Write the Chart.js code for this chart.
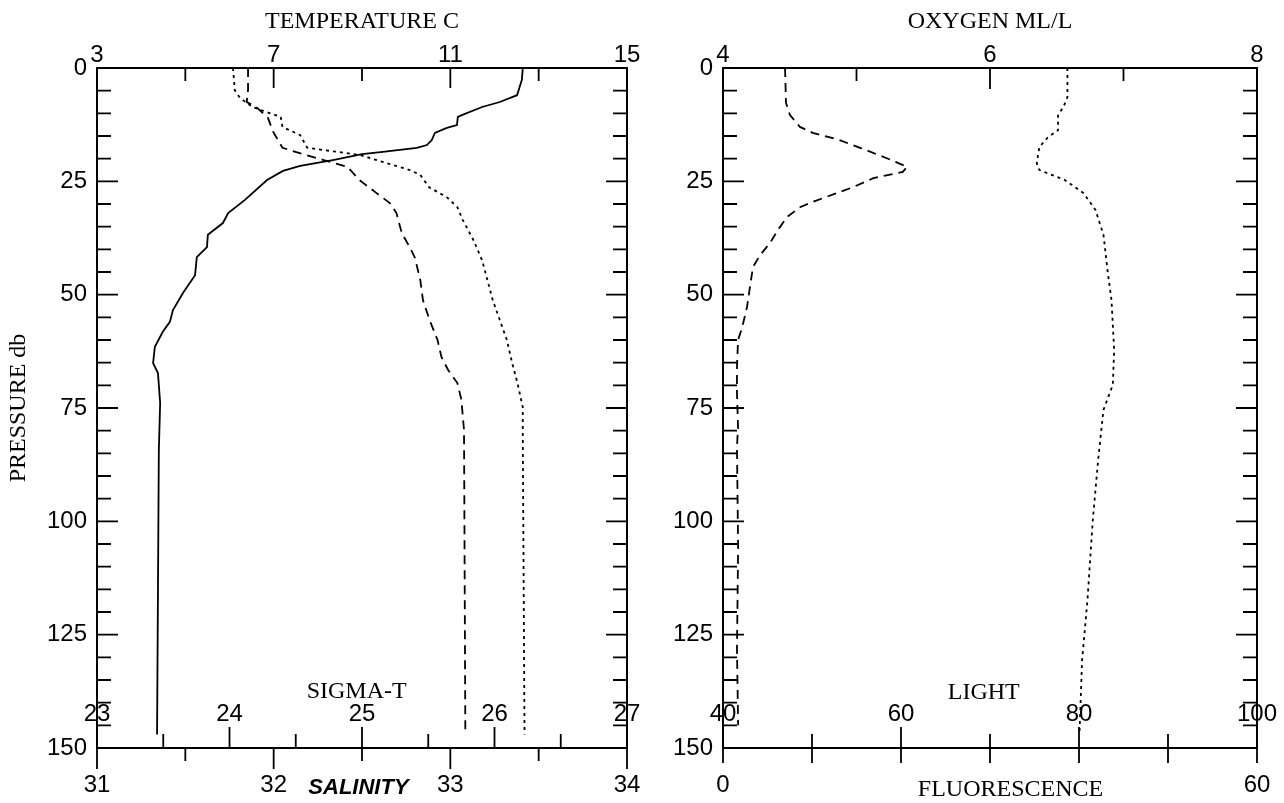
<!DOCTYPE html>
<html>
<head>
<meta charset="utf-8">
<script src="https://cdn.jsdelivr.net/npm/chart.js@4"></script>
<style>
  html, body { margin: 0; padding: 0; background: #fff; }
  #wrap { position: relative; width: 1284px; height: 803px; }
  #left { position: absolute; left: 0; top: 0; width: 640px; height: 803px; }
  #right { position: absolute; left: 640px; top: 0; width: 644px; height: 803px; }
</style>
</head>
<body>
<div id="wrap">
  <div id="left"><canvas id="c1"></canvas></div>
  <div id="right"><canvas id="c2"></canvas></div>
</div>
<script>
// tick labels
const pressureTicks = [0, 25, 50, 75, 100, 125, 150];
const tempTicks = [3, 7, 11, 15];
const salTicks = [31, 32, 33, 34];
const sigmaTicks = [23, 24, 25, 26, 27];
const oxyTicks = [4, 6, 8];
const lightTicks = [40, 60, 80, 100];
const fluTicks = [0, 60];

// left panel profiles (pressure db / value)
const tempPres = [0, 2.6, 6.0, 7.5, 8.6, 10.4, 10.8, 12.6, 13.2, 14.3, 15.9, 17.0, 17.6, 18.5, 19.0, 20.3, 21.6, 22.7, 24.7, 29.1, 32.0, 34.2, 36.8, 39.5, 41.7, 45.7, 49.6, 53.4, 56.0, 58.2, 61.5, 65.1, 67.3, 73.9, 84.3, 147];
const tempVals = [12.64, 12.62, 12.51, 12.12, 11.72, 11.26, 11.17, 11.15, 10.92, 10.65, 10.58, 10.47, 10.24, 9.47, 9.00, 8.34, 7.60, 7.21, 6.85, 6.35, 5.97, 5.85, 5.51, 5.49, 5.26, 5.22, 4.95, 4.72, 4.65, 4.49, 4.31, 4.27, 4.38, 4.43, 4.40, 4.36];

const sigPres = [0, 4.9, 7.5, 8.8, 11.0, 14.1, 17.6, 18.8, 20.3, 21.8, 24.7, 27.6, 29.8, 32.0, 36.4, 39.5, 41.9, 46.8, 51.2, 55.6, 60.0, 63.8, 66.6, 69.5, 73.2, 79.9, 147];
const sigVals = [24.14, 24.14, 24.13, 24.21, 24.29, 24.33, 24.40, 24.53, 24.71, 24.89, 24.98, 25.11, 25.21, 25.26, 25.30, 25.36, 25.40, 25.44, 25.46, 25.51, 25.57, 25.60, 25.65, 25.72, 25.75, 25.77, 25.78];

const salPres = [0, 4.9, 6.6, 8.6, 9.7, 10.8, 13.0, 14.8, 17.6, 18.5, 19.2, 21.0, 22.5, 23.6, 26.3, 28.5, 30.7, 33.5, 37.9, 42.4, 46.8, 51.2, 55.6, 60.0, 65.1, 69.5, 74.8, 80.5, 147];
const salVals = [31.77, 31.78, 31.81, 31.88, 31.96, 32.04, 32.05, 32.15, 32.19, 32.36, 32.49, 32.64, 32.77, 32.83, 32.88, 32.98, 33.04, 33.07, 33.13, 33.18, 33.21, 33.24, 33.28, 33.32, 33.35, 33.38, 33.41, 33.41, 33.42];

// right panel profiles
const oxyPres = [0, 6.4, 8.6, 10.4, 13.7, 15.4, 17.4, 21.0, 22.5, 24.7, 27.6, 31.3, 36.8, 44.6, 51.2, 62.2, 69.9, 75.4, 86.5, 99.7, 117.4, 130.6, 147];
const oxyVals = [6.58, 6.58, 6.55, 6.51, 6.51, 6.43, 6.37, 6.35, 6.37, 6.56, 6.70, 6.79, 6.85, 6.88, 6.91, 6.93, 6.92, 6.85, 6.81, 6.77, 6.73, 6.69, 6.67];

const fluPres = [0, 7.7, 10.4, 13.0, 14.3, 15.9, 17.6, 19.9, 21.8, 22.9, 24.3, 26.3, 29.3, 30.7, 32.9, 35.7, 38.6, 41.3, 43.9, 48.3, 52.7, 57.4, 60.0, 66.0, 71.7, 79.2, 83.6, 106, 128, 145];
const fluVals = [6.97, 7.08, 7.53, 8.65, 10.1, 13.1, 15.4, 18.4, 20.7, 20.2, 16.9, 14.6, 10.4, 8.65, 7.19, 6.18, 5.28, 4.16, 3.37, 3.03, 2.70, 2.13, 1.69, 1.57, 1.57, 1.69, 1.57, 1.7, 1.57, 1.7];

Chart.defaults.color = '#000';
const numFont = { family: 'Liberation Sans', size: 24 };
const serif = { family: 'Liberation Serif', size: 24 };

function pts(pres, vals) {
  return pres.map((p, i) => ({ x: vals[i], y: p }));
}

function line(label, axis, pres, vals, dash) {
  return {
    label: label,
    xAxisID: axis,
    yAxisID: 'y',
    data: pts(pres, vals),
    showLine: true,
    borderColor: '#000',
    borderWidth: 1.8,
    borderDash: dash,
    pointRadius: 0,
    fill: false,
    tension: 0
  };
}

function fixTicks(list) {
  return s => { s.ticks = list.map(v => ({ value: v })); };
}

// fixed box sizes so the plot frame lands where the original one is
function fixSize(w, h) {
  return s => {
    if (w !== null) s.width = w;
    if (h !== null) s.height = h;
    s.paddingLeft = 0; s.paddingRight = 0;
    s.paddingTop = 0; s.paddingBottom = 0;
  };
}

function pressAxis(width, title) {
  return {
    type: 'linear', position: 'left', reverse: true, min: 0, max: 150,
    afterBuildTicks: fixTicks(pressureTicks),
    afterFit: fixSize(width, null),
    grid: { display: false, drawTicks: false },
    border: { display: false },
    ticks: { padding: 10, font: numFont, autoSkip: false },
    title: title ? { display: true, text: title, font: serif, padding: { top: 4, bottom: 0 } } : { display: false }
  };
}

function topAxis(min, max, list, title) {
  return {
    type: 'linear', position: 'top', min: min, max: max,
    afterBuildTicks: fixTicks(list),
    afterFit: fixSize(null, 68),
    grid: { display: false, drawTicks: false },
    border: { display: false },
    ticks: { padding: -2, font: numFont, autoSkip: false, maxRotation: 0 },
    title: { display: true, text: title, font: serif, padding: { top: 7, bottom: 0 } }
  };
}

function bottomAxis(min, max, list) {
  return {
    type: 'linear', position: 'bottom', min: min, max: max,
    afterBuildTicks: fixTicks(list),
    afterFit: fixSize(null, 55),
    grid: { display: false, drawTicks: false },
    border: { display: false },
    ticks: { padding: 23, font: numFont, autoSkip: false, maxRotation: 0 }
  };
}

// frame, inward ticks, inner axis labels and bottom titles
function frame(spec) {
  return {
    id: 'frame',
    afterDatasetsDraw(chart) {
      const { ctx, chartArea: a, scales } = chart;
      ctx.save();
      ctx.strokeStyle = '#000';
      ctx.lineWidth = 2;
      ctx.strokeRect(a.left, a.top, a.right - a.left, a.bottom - a.top);
      ctx.lineWidth = 1.8;
      ctx.beginPath();
      spec.marks.forEach(m => {
        const s = scales[m.scale];
        const n = Math.round((s.max - s.min) / m.step);
        for (let i = 0; i <= n; i++) {
          const v = s.min + i * m.step;
          const big = m.major.some(t => Math.abs(t - v) < 1e-6);
          const len = big ? m.long : m.short;
          const p = s.getPixelForValue(v);
          if (m.side === 'left') { ctx.moveTo(a.left, p); ctx.lineTo(a.left + len, p); }
          else if (m.side === 'right') { ctx.moveTo(a.right, p); ctx.lineTo(a.right - len, p); }
          else if (m.side === 'top') { ctx.moveTo(p, a.top); ctx.lineTo(p, a.top + len); }
          else if (m.side === 'up') { ctx.moveTo(p, a.bottom); ctx.lineTo(p, a.bottom - len); }
          else { ctx.moveTo(p, a.bottom); ctx.lineTo(p, a.bottom + len); }
        }
      });
      ctx.stroke();
      ctx.fillStyle = '#000';
      ctx.textAlign = 'center';
      ctx.textBaseline = 'middle';
      ctx.font = '24px "Liberation Sans"';
      spec.inner.forEach(l => {
        const s = scales[l.scale];
        l.ticks.forEach(v => ctx.fillText(String(v), s.getPixelForValue(v), a.bottom - 34));
      });
      spec.titles.forEach(t => {
        ctx.font = t.font;
        ctx.fillText(t.text, scales[t.scale].getPixelForValue(t.at), a.bottom + t.dy);
      });
      ctx.restore();
    }
  };
}

const pressMarks = [
  { scale: 'y', side: 'left', step: 5, major: pressureTicks, short: 14, long: 21 },
  { scale: 'y', side: 'right', step: 5, major: pressureTicks, short: 14, long: 21 }
];

new Chart(document.getElementById('c1'), {
  type: 'scatter',
  data: {
    datasets: [
      line('Temperature', 'xTemp', tempPres, tempVals, []),
      line('Sigma-T', 'xSig', sigPres, sigVals, [9, 6]),
      line('Salinity', 'xSal', salPres, salVals, [3, 4])
    ]
  },
  options: {
    responsive: true,
    maintainAspectRatio: false,
    animation: false,
    layout: { padding: { top: 0, left: 0, right: 13, bottom: 0 } },
    plugins: { legend: { display: false }, tooltip: { enabled: false } },
    scales: {
      y: pressAxis(97, 'PRESSURE db'),
      xTemp: topAxis(3, 15, tempTicks, 'TEMPERATURE C'),
      xSal: bottomAxis(31, 34, salTicks),
      xSig: { type: 'linear', display: false, position: 'bottom', min: 23, max: 27 }
    }
  },
  plugins: [frame({
    marks: pressMarks.concat([
      { scale: 'xTemp', side: 'top', step: 2, major: tempTicks, short: 13, long: 20 },
      { scale: 'xSig', side: 'up', step: 0.5, major: sigmaTicks, short: 14, long: 21 },
      { scale: 'xSal', side: 'down', step: 0.5, major: salTicks, short: 13, long: 21 }
    ]),
    inner: [{ scale: 'xSig', ticks: sigmaTicks }],
    titles: [
      { text: 'SIGMA-T', scale: 'xSig', at: 24.96, dy: -56, font: '24px "Liberation Serif"' },
      { text: 'SALINITY', scale: 'xSal', at: 32.48, dy: 40, font: 'italic bold 22px "Liberation Sans"' }
    ]
  })]
});

new Chart(document.getElementById('c2'), {
  type: 'scatter',
  data: {
    datasets: [
      line('Fluorescence', 'xFlu', fluPres, fluVals, [9, 6]),
      line('Oxygen', 'xOxy', oxyPres, oxyVals, [3, 4])
    ]
  },
  options: {
    responsive: true,
    maintainAspectRatio: false,
    animation: false,
    layout: { padding: { top: 0, left: 0, right: 27, bottom: 0 } },
    plugins: { legend: { display: false }, tooltip: { enabled: false } },
    scales: {
      y: pressAxis(83, null),
      xOxy: topAxis(4, 8, oxyTicks, 'OXYGEN ML/L'),
      xFlu: bottomAxis(0, 60, fluTicks),
      xLight: { type: 'linear', display: false, position: 'bottom', min: 40, max: 100 }
    }
  },
  plugins: [frame({
    marks: pressMarks.concat([
      { scale: 'xOxy', side: 'top', step: 1, major: oxyTicks, short: 13, long: 21 },
      { scale: 'xLight', side: 'up', step: 10, major: lightTicks, short: 14, long: 21 },
      { scale: 'xFlu', side: 'down', step: 10, major: [], short: 15, long: 15 }
    ]),
    inner: [{ scale: 'xLight', ticks: lightTicks }],
    titles: [
      { text: 'LIGHT', scale: 'xLight', at: 69.3, dy: -55, font: '24px "Liberation Serif"' },
      { text: 'FLUORESCENCE', scale: 'xFlu', at: 32.3, dy: 42, font: '24px "Liberation Serif"' }
    ]
  })]
});
</script>
</body>
</html>
